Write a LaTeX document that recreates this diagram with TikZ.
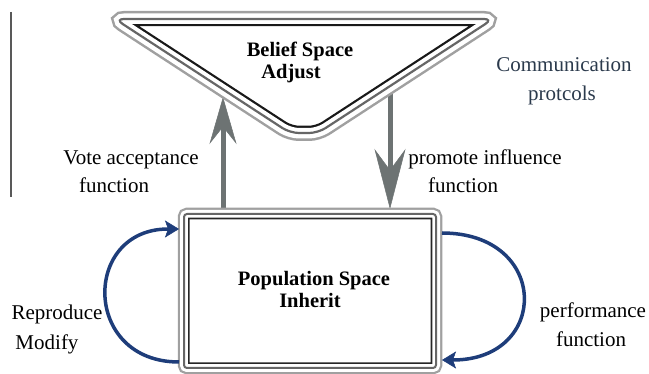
\documentclass[tikz,border=0pt]{standalone}
\usepackage{fontspec}
\setmainfont{Liberation Serif}
\usetikzlibrary{arrows.meta}
\definecolor{tubelight}{HTML}{A0A0A0}
\definecolor{tubemid}{HTML}{666666}
\definecolor{arrowgray}{HTML}{6D7373}
\definecolor{navyblue}{HTML}{1E3D7A}
\definecolor{slatetext}{HTML}{2B3A4C}
\newcommand{\tubetri}[1]{%
  \fill[white] #1;
  \draw[tubelight, line width=16pt] #1;
  \draw[white, line width=11pt] #1;
  \begin{scope}
    \clip #1;
    \draw[white, line width=18pt] #1;
    \draw[black!90, line width=14.5pt] #1;
    \draw[white, line width=10pt] #1;
  \end{scope}
  \draw[tubemid, line width=2.2pt] #1;
}
\newcommand{\tuberect}[1]{%
  \fill[white] #1;
  \draw[tubelight, line width=12.5pt] #1;
  \draw[white, line width=8pt] #1;
  \begin{scope}
    \clip #1;
    \draw[white, line width=14pt] #1;
    \draw[black!85, line width=11pt] #1;
    \draw[white, line width=7.5pt] #1;
  \end{scope}
  \draw[tubemid, line width=2pt] #1;
}
\begin{document}
\begin{tikzpicture}[x=1pt,y=-1pt,
  lbl/.style={font=\fontsize{21}{23}\selectfont, inner sep=0pt, anchor=base},
  blbl/.style={font=\fontsize{20.5}{22}\selectfont\bfseries, inner sep=0pt, anchor=base},
  bigarrow/.style={draw=arrowgray, line width=5pt},
  cyclearrow/.style={draw=navyblue, line width=3.5pt,
    -{Stealth[length=14pt,width=17pt,inset=3pt,line width=0.5pt]}}]
\useasboundingbox (0,0) rectangle (649,374);

% left bar
\coordinate (barT) at (11,12);
\coordinate (barB) at (11,197);
\draw[black!65, line width=1.3pt] (barT) -- (barB);

% anchors of the two spaces
\coordinate (voteS) at (223,212);
\coordinate (voteE) at (223,97);
\coordinate (promS) at (390,88);
\coordinate (promE) at (390,209);

% vertical arrows
\draw[bigarrow, -{Stealth[length=47pt,width=27pt,inset=17pt,line width=0.5pt]}] (voteS) -- (voteE);
\draw[bigarrow, -{Stealth[length=60pt,width=31pt,inset=21pt,line width=0.5pt]}] (promS) -- (promE);

% belief space (triangle)
\tubetri{(300,19) [rounded corners=9pt] -- (493,19) -- (318,133) -- (290,133) -- (115,19) -- cycle}

% population space (rectangle)
\tuberect{[rounded corners=3pt] (184,214) rectangle (436,368)}

% loops
\coordinate (repS) at (179,362);
\coordinate (repE) at (179,229);
\coordinate (perfS) at (442,233);
\coordinate (perfE) at (442,360);
\draw[cyclearrow] (repS) .. controls (82,362) and (82,229) .. (repE);
\draw[cyclearrow] (perfS) .. controls (550,233) and (550,360) .. (perfE);

% texts
\node[blbl] (belief1) at (300,57) {Belief Space};
\node[blbl] (belief2) at (291,79) {Adjust};
\node[blbl] (pop1) at (314,286) {Population Space};
\node[blbl] (pop2) at (310,308) {Inherit};
\node[lbl, text=slatetext] (comm1) at (564,72) {Communication};
\node[lbl, text=slatetext] (comm2) at (562,101) {protcols};
\node[lbl] (vote1) at (131,165) {Vote acceptance};
\node[lbl] (vote2) at (114,193) {function};
\node[lbl] (prom1) at (485,165) {promote influence};
\node[lbl] (prom2) at (463,193) {function};
\node[lbl] (rep1) at (57,320) {Reproduce};
\node[lbl] (rep2) at (47,350) {Modify};
\node[lbl] (perf1) at (593,318) {performance};
\node[lbl] (perf2) at (591,347) {function};
\end{tikzpicture}
\end{document}
